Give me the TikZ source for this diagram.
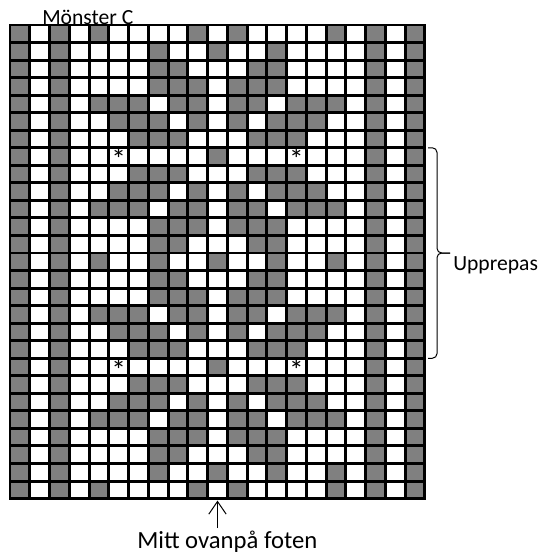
\documentclass[tikz,border=0pt]{standalone}
\usepackage{fontspec}
\setmainfont{Carlito}
\usepackage{tikz}
\usetikzlibrary{positioning, arrows.meta}
\definecolor{cellgray}{RGB}{128,128,128}
\newcommand{\cellw}{19.76}
\newcommand{\cellh}{17.54}

\begin{document}
\begin{tikzpicture}[
      x=0.75pt, y=-0.75pt,
      cell/.style={fill=cellgray},
      gridline/.style={line width=2.2pt},
      lbl/.style={font=\fontsize{16.2}{19}\selectfont, inner sep=0pt},
      star/.style={font=\fontsize{22}{24}\selectfont, inner sep=0pt, anchor=center},
      arr/.style={-{Straight Barb[length=9.5pt, width=13pt]}, line width=0.75pt},
      bracket/.style={rounded corners=3.5pt, line width=0.75pt}
    ]
    \useasboundingbox (0,0) rectangle (540,553);

    % gray stitches, row by row (columns that are filled)
    \foreach \r/\cols in {
        1/{1,3,5,10,12,17,19,21},
        2/{1,3,8,11,14,19,21},
        3/{1,3,8,9,13,14,19,21},
        4/{1,3,8,9,10,12,13,14,19,21},
        5/{1,3,5,6,7,9,10,12,13,15,16,17,19,21},
        6/{1,3,6,7,8,10,12,14,15,16,19,21},
        7/{1,3,7,8,9,13,14,15,19,21},
        8/{1,3,11,19,21},
        9/{1,3,7,8,9,13,14,15,19,21},
        10/{1,3,6,7,8,10,12,14,15,16,19,21},
        11/{1,3,5,6,7,9,10,12,13,15,16,17,19,21},
        12/{1,3,8,9,10,12,13,14,19,21},
        13/{1,3,8,9,13,14,19,21},
        14/{1,3,5,8,11,14,17,19,21},
        15/{1,3,8,9,13,14,19,21},
        16/{1,3,8,9,10,12,13,14,19,21},
        17/{1,3,5,6,7,9,10,12,13,15,16,17,19,21},
        18/{1,3,6,7,8,10,12,14,15,16,19,21},
        19/{1,3,7,8,9,13,14,15,19,21},
        20/{1,3,11,19,21},
        21/{1,3,7,8,9,13,14,15,19,21},
        22/{1,3,6,7,8,10,12,14,15,16,19,21},
        23/{1,3,5,6,7,9,10,12,13,15,16,17,19,21},
        24/{1,3,8,9,10,12,13,14,19,21},
        25/{1,3,8,9,13,14,19,21},
        26/{1,3,8,11,14,17,19,21},
        27/{1,3,5,10,12,17,19,21}} {
      \foreach \c in \cols
        \fill[cell] ({10+(\c-1)*\cellw},{25+(\r-1)*\cellh}) rectangle ++(\cellw,\cellh);
    }

    % grid lines
    \foreach \i in {1,...,20}
      \draw[gridline] ({10+\i*\cellw},25) -- ({10+\i*\cellw},{25+27*\cellh});
    \foreach \j in {1,...,26}
      \draw[gridline] (10,{25+\j*\cellh}) -- ({10+21*\cellw},{25+\j*\cellh});
    \draw[gridline] (10,25) rectangle ({10+21*\cellw},{25+27*\cellh});

    % asterisks
    \node[star] (ast1) at ({10+5.5*\cellw},{28+7.5*\cellh}) {*};
    \node[star] (ast2) at ({10+14.5*\cellw},{28+7.5*\cellh}) {*};
    \node[star] (ast3) at ({10+5.5*\cellw},{28+19.5*\cellh}) {*};
    \node[star] (ast4) at ({10+14.5*\cellw},{28+19.5*\cellh}) {*};

    \node[lbl, anchor=base west] (title) at (42,24) {Mönster C};

    % repeat bracket
    \coordinate (reptop) at (428,{25+7*\cellh});
    \coordinate (repbot) at (428,{25+19*\cellh});
    \coordinate (repmid) at (437,253);
    \coordinate (reptip) at (450,253);
    \draw[bracket] (reptop) -| (repmid) -- (reptip);
    \draw[bracket] (repbot) -| (repmid) -- (reptip);
    \node[lbl, anchor=base west] (upp) at (453,270) {Upprepas};

    % centre arrow
    \coordinate (gridmid) at ({10+10.5*\cellw},{25+27*\cellh+2});
    \coordinate (arrtail) at ({10+10.5*\cellw},528);
    \node[lbl, font=\fontsize{18.5}{21}\selectfont, anchor=base west] (mitt) at (137,548) {Mitt ovanpå foten};
    \draw[arr] (arrtail) -- (gridmid);
  \end{tikzpicture}
\end{document}
